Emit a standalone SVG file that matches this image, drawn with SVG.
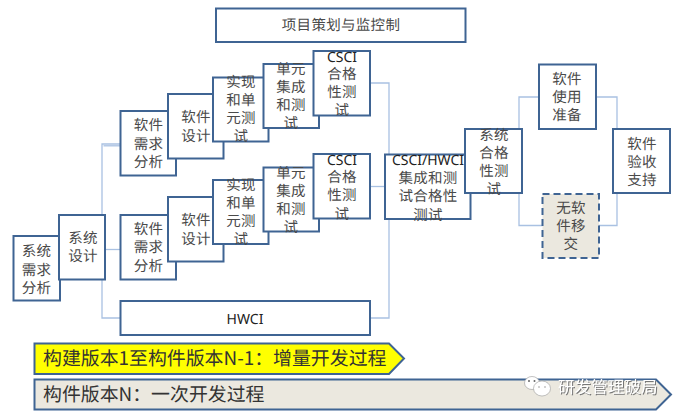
<svg xmlns="http://www.w3.org/2000/svg" width="680" height="416" viewBox="0 0 680 416" xml:lang="zh-CN">
<style>
text{font-family:"Noto Sans CJK SC",sans-serif;font-size:14.5px;fill:#4a4a4a;text-anchor:middle;letter-spacing:.3px;text-rendering:geometricPrecision}
.c{font-family:"Noto Sans CJK TC",sans-serif}
.b{fill:#fff;stroke:#3f6493;stroke-width:2}
.l{fill:none;stroke:#a9c1e2;stroke-width:1.3}
.la{font-family:"Noto Sans","Noto Sans CJK SC",sans-serif;font-size:14px;fill:#222;letter-spacing:0}
.bar{font-size:18.9px;text-anchor:start;fill:#333;letter-spacing:0}
.wm{font-size:16.6px;fill:#fff;text-anchor:start;letter-spacing:0;filter:drop-shadow(1px 1px .6px #777)}
</style>
<g id="connectors">
<path class="l" d="M120.500 144H102V318H120.500"/>
<path class="l" d="M120.500 145.800H103.500"/>
<path class="l" d="M105 249.500H120.500"/>
<path class="l" d="M370 83H389V154.500"/>
<path class="l" d="M370 186.500H385"/>
<path class="l" d="M370 318H389V219"/>
<path class="l" d="M539 97H519V129"/>
<path class="l" d="M519 193V225.500H542.500"/>
<path class="l" d="M596 97H617V129"/>
<path class="l" d="M599 225.500H617V193"/>
</g>
<g id="n-plan"><rect class="b" x="216" y="8.500" width="249.500" height="33.500"/><text x="341" y="30">项目策划与监控制</text></g>
<g id="n-sys-req"><rect class="b" x="13.500" y="236" width="46.500" height="64.500"/><text x="36.500" y="256">系统</text><text x="36.500" y="274.500">需求</text><text x="36.500" y="292.500">分析</text></g>
<g id="n-sys-design"><rect class="b" x="59" y="215" width="46" height="64.500"/><text x="83" y="243">系统</text><text x="83" y="261">设计</text></g>
<g id="n-req1"><rect class="b" x="120.500" y="111" width="55.500" height="64.500"/><text x="148.500" y="130">软件</text><text x="148.500" y="148.500">需求</text><text x="148.500" y="167">分析</text></g>
<g id="n-des1"><rect class="b" x="168" y="94" width="55.500" height="64.500"/><text x="196" y="122">软件</text><text x="196" y="141">设计</text></g>
<g id="n-impl1"><rect class="b" x="213" y="77.500" width="55.500" height="64"/><text x="241" y="87">实现</text><text x="241" y="105">和单</text><text x="241" y="123">元<tspan class="c">测</tspan></text><text x="241" y="141">试</text></g>
<g id="n-unit1"><rect class="b" x="263.500" y="64" width="55.500" height="64"/><text x="291" y="74">单元</text><text x="291" y="92">集成</text><text x="291" y="110">和<tspan class="c">测</tspan></text><text x="291" y="128">试</text></g>
<g id="n-csci1"><rect class="b" x="313.500" y="51" width="56.500" height="64.500"/><text class="la" x="342" y="62">CSCI</text><text x="342" y="79">合格</text><text x="342" y="97">性<tspan class="c">测</tspan></text><text x="342" y="115">试</text></g>
<g id="n-req2"><rect class="b" x="120.500" y="215" width="55.500" height="64.500"/><text x="148.500" y="234">软件</text><text x="148.500" y="252">需求</text><text x="148.500" y="270.500">分析</text></g>
<g id="n-des2"><rect class="b" x="168" y="197" width="55.500" height="64.500"/><text x="196" y="225">软件</text><text x="196" y="243.500">设计</text></g>
<g id="n-impl2"><rect class="b" x="213" y="180" width="55.500" height="64"/><text x="241" y="190">实现</text><text x="241" y="208">和单</text><text x="241" y="226">元<tspan class="c">测</tspan></text><text x="241" y="244">试</text></g>
<g id="n-unit2"><rect class="b" x="263.500" y="167.500" width="55.500" height="64"/><text x="291" y="177.500">单元</text><text x="291" y="195.500">集成</text><text x="291" y="213.500">和<tspan class="c">测</tspan></text><text x="291" y="231.500">试</text></g>
<g id="n-csci2"><rect class="b" x="313.500" y="154" width="56.500" height="64.500"/><text class="la" x="342" y="165">CSCI</text><text x="342" y="182">合格</text><text x="342" y="200">性<tspan class="c">测</tspan></text><text x="342" y="218.500">试</text></g>
<g id="n-hwci"><rect class="b" x="120.500" y="301" width="249.500" height="34"/><text class="la" x="245" y="324">HWCI</text></g>
<g id="n-integ"><rect class="b" x="385" y="154.500" width="85.500" height="64.500"/><text class="la" x="428" y="165">CSCI/HWCI</text><text x="428" y="183">集成和<tspan class="c">测</tspan></text><text x="428" y="201">试合格性</text><text x="428" y="219.500"><tspan class="c">测</tspan>试</text></g>
<g id="n-systest"><rect class="b" x="465" y="129" width="57" height="64"/><text x="494" y="140">系统</text><text x="494" y="158">合格</text><text x="494" y="176">性<tspan class="c">测</tspan></text><text x="494" y="194">试</text></g>
<g id="n-use"><rect class="b" x="539" y="64.500" width="57" height="64.500"/><text x="567" y="84">软件</text><text x="567" y="102">使用</text><text x="567" y="120">准备</text></g>
<g id="n-none"><rect x="542.500" y="194" width="56.500" height="64" fill="#ebe8df" stroke="#3f6493" stroke-width="2" stroke-dasharray="7 4"/><text x="571" y="213">无软</text><text x="571" y="231">件移</text><text x="571" y="249">交</text></g>
<g id="n-accept"><rect class="b" x="613" y="129" width="57" height="64"/><text x="642" y="149">软件</text><text x="642" y="167">验收</text><text x="642" y="185">支持</text></g>
<g id="bar-incremental"><path d="M34.500 343.500H389L404 358.500L389 374H34.500Z" fill="#ffff00" stroke="#3f6493" stroke-width="2"/><text class="bar" x="43" y="365">构建版本1至构件版本N-1：增量开发过程</text></g>
<g id="bar-once"><path d="M34.500 379.500H656L671 394.500L656 409.500H34.500Z" fill="#ebe8df" stroke="#3f6493" stroke-width="2"/><text class="bar" x="43" y="401">构件版本N：一次开发过程</text></g>
<g id="watermark"><ellipse cx="532" cy="383" rx="7.500" ry="6.500" fill="#fff" stroke="#999" stroke-width=".6"/><ellipse cx="542" cy="388.500" rx="8.500" ry="7.500" fill="#fff" stroke="#999" stroke-width=".6"/><circle cx="529" cy="381" r="1" fill="#666"/><circle cx="534.500" cy="381" r="1" fill="#666"/><circle cx="539" cy="387" r=".8" fill="#999"/><circle cx="545" cy="387" r=".8" fill="#999"/><text class="wm" x="558" y="393">研发管理破局</text></g>
</svg>
